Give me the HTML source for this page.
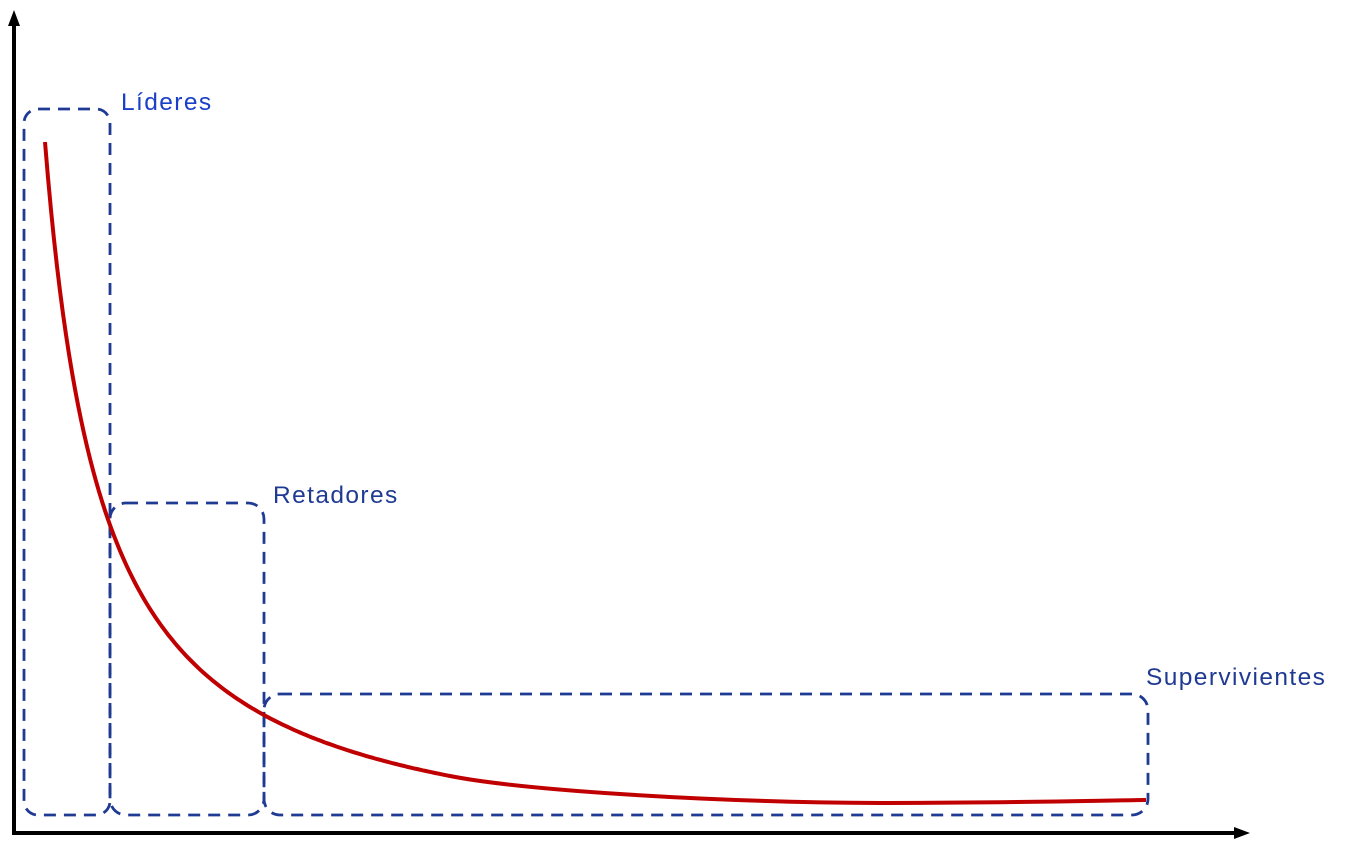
<!DOCTYPE html>
<html><head><style>body{margin:0;background:#fff}svg{display:block}</style></head><body>
<svg width="1366" height="847" xmlns="http://www.w3.org/2000/svg">
<line x1="14" y1="835" x2="14" y2="22" stroke="#000" stroke-width="4"/>
<path d="M14,10 L8,26 L20,26 z" fill="#000"/>
<line x1="12" y1="833" x2="1236" y2="833" stroke="#000" stroke-width="4"/>
<path d="M1250,833 L1234,827 L1234,839 z" fill="#000"/>
<g fill="none" stroke="#1f3a93" stroke-width="2.8" stroke-dasharray="12,8">
<rect x="24" y="109" width="86" height="706" rx="14"/>
<rect x="110" y="503" width="154" height="312" rx="16"/>
<rect x="264" y="694" width="884" height="121" rx="16"/>
</g>
<path id="c" d="" fill="none" stroke="#c00000" stroke-width="4"/>
<g font-family="Liberation Sans, sans-serif" font-size="24.5" fill="#1f3a93" letter-spacing="1.4">
<text x="121" y="110" fill="#1a3fc8">Líderes</text>
<text x="273" y="503">Retadores</text>
<text x="1146" y="685">Supervivientes</text>
</g>
</svg>
<script>
var d="";for(var x=45;x<=450;x+=3){var y=866.8-42036/(x+13);d+=(x==45?"M":"L")+x+","+y.toFixed(1)+" ";}
d+="C520,789.7 700,802 880,803 C1000,803 1080,801 1146,800";
document.getElementById("c").setAttribute("d",d);
</script>
</body></html>
